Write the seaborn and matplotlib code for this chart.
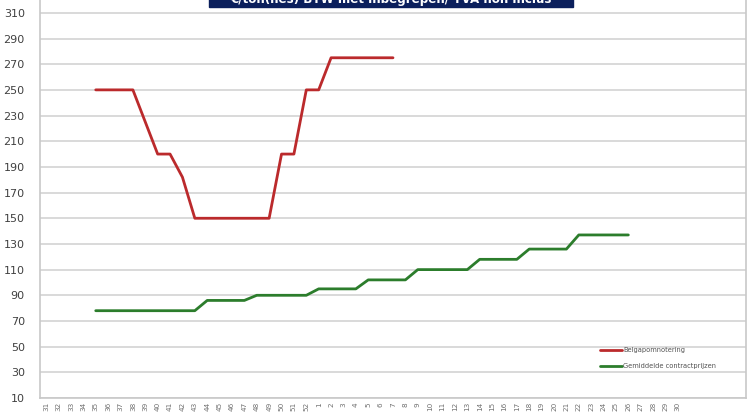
import numpy as np
import pandas as pd
import matplotlib
matplotlib.use("Agg")
import matplotlib.pyplot as plt
from matplotlib.patches import Rectangle
import seaborn as sns

# week numbers on the category axis (5 empty cells follow)
weeks = ["31", "32", "33", "34", "35", "36", "37", "38", "39", "40", "41", "42",
         "43", "44", "45", "46", "47", "48", "49", "50", "51", "52",
         "1", "2", "3", "4", "5", "6", "7", "8", "9", "10", "11", "12", "13",
         "14", "15", "16", "17", "18", "19", "20", "21", "22", "23", "24", "25",
         "26", "27", "28", "29", "30"]
n_empty = 5

belgapom = ([None] * 4 +
            [250, 250, 250, 250, 225, 200, 200, 182,
             150, 150, 150, 150, 150, 150, 150,
             200, 200, 250, 250, 275, 275, 275, 275, 275, 275] +
            [None] * 23)

contract = ([None] * 4 +
            [78, 78, 78, 78, 78, 78, 78, 78, 78,
             86, 86, 86, 86,
             90, 90, 90, 90, 90,
             95, 95, 95, 95,
             102, 102, 102, 102,
             110, 110, 110, 110, 110,
             118, 118, 118, 118,
             126, 126, 126, 126,
             137, 137, 137, 137, 137] +
            [None] * 4)

series_names = ["Belgapomnotering", "Gemiddelde contractprijzen"]
colors = ["#bb2a2c", "#2c7d2c"]
title = "€/ton(nes) BTW met inbegrepen/ TVA non inclus"

df = pd.DataFrame({"pos": np.arange(len(weeks)),
                   series_names[0]: belgapom,
                   series_names[1]: contract})
long = df.melt(id_vars="pos", var_name="serie", value_name="prijs").dropna()

sns.set_style("white")
fig = plt.figure(figsize=(7.48, 4.2), dpi=100)
ax = fig.add_axes([40 / 748, 22 / 420, 706 / 748, 398 / 420])

for y in range(10, 320, 20):
    ax.axhline(y, color="#d9d9d9", lw=1.4, zorder=0)

sns.lineplot(data=long, x="pos", y="prijs", hue="serie", hue_order=series_names,
             palette=colors, linewidth=2.0, ax=ax, legend=True)

ax.set_xlim(-0.5, len(weeks) + n_empty - 0.5)
ax.set_ylim(10, 320)
ax.set_yticks(range(10, 320, 20))
ax.tick_params(axis="y", labelsize=8, labelcolor="#404040", color="#c8c8c8",
               length=4, width=1, pad=7)

# category table under the axis
ax.set_xticks(np.arange(-0.5, len(weeks) + n_empty), minor=False)
ax.set_xticklabels([])
ax.tick_params(axis="x", which="major", length=16, color="#cfcfcf", width=1,
               direction="out")
ax.set_xticks(np.arange(len(weeks)), minor=True)
ax.set_xticklabels(weeks, minor=True, rotation=90, fontsize=5.2, color="#707070")
ax.tick_params(axis="x", which="minor", length=0, pad=3)

ax.set_xlabel("")
ax.set_ylabel("")
ax.spines["top"].set_visible(False)
for s in ["left", "bottom", "right"]:
    ax.spines[s].set_color("#c8c8c8")
    ax.spines[s].set_linewidth(1.2)

leg = ax.legend(loc="upper left", bbox_to_anchor=(0.785, 0.142), frameon=False,
                fontsize=4.8, handlelength=3.2, handletextpad=0.2,
                labelspacing=1.45, labelcolor="#505050")
for line in leg.get_lines():
    line.set_linewidth(2.0)

# title box, cut by the top edge as in the original
fig.add_artist(Rectangle((209 / 748, 413 / 420), 364 / 748, 10 / 420,
                         transform=fig.transFigure, fc="#0b1f5c", ec="#0b1f5c",
                         zorder=5))
fig.text(391 / 748, 421 / 420, title, ha="center", va="center", color="white",
         fontsize=8.6, fontweight="bold", zorder=6)

fig.savefig("out.png", dpi=100)
